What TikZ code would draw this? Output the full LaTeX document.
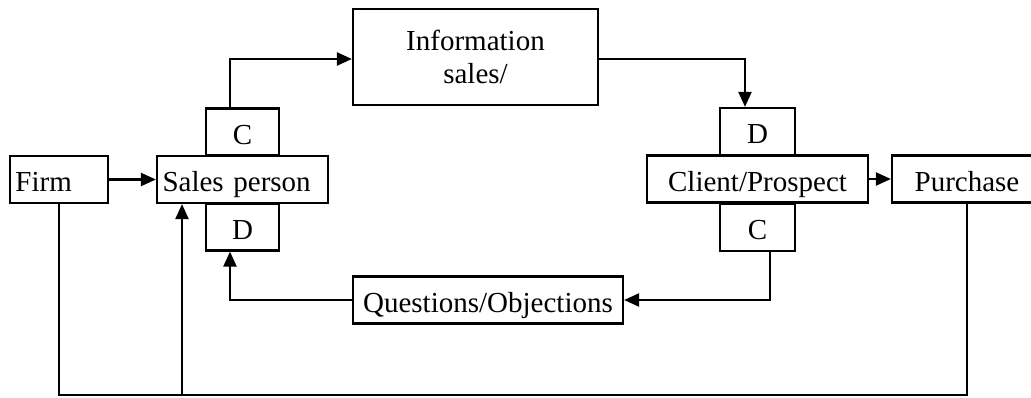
\documentclass[tikz,border=0pt]{standalone}
\usepackage{fontspec}
\setmainfont{Liberation Serif}
\usetikzlibrary{arrows.meta,positioning}

\begin{document}
\begin{tikzpicture}[x=1pt, y=-1pt, >={Triangle[length=15pt,width=13pt]},
  box/.style={rectangle, draw, line width=2.2pt, inner ysep=0pt, inner xsep=0pt, text height=36pt, text depth=11pt, font=\fontsize{29}{33}\selectfont},
  lbox/.style={box, align=left, inner xsep=5.5pt},
  cbox/.style={box, align=center},
  edge/.style={->, line width=2.2pt},
  line/.style={line width=2.2pt}
]
\useasboundingbox (0,0) rectangle (1031,398);
% blocks
\node[lbox, text width=87pt] (firm) at (59,179.5) {Firm};
\node[lbox, text width=160pt] (sales) at (242.5,179.5) {Sales person};
\node[cbox, minimum width=73pt] (ctop) at (242.5,132) {C};
\node[cbox, minimum width=73pt] (dbot) at (242.5,227) {D};
\node[rectangle, draw, line width=2.2pt, align=center, minimum width=245pt, minimum height=96pt, font=\fontsize{29}{33}\selectfont] (info) at (475.5,57) {Information\\sales/};
\node[cbox, minimum width=75pt] (dtop) at (757.5,131.5) {D};
\node[cbox, minimum width=221pt] (client) at (757.5,179) {Client/Prospect};
\node[cbox, minimum width=75pt] (cbot) at (757.5,227.5) {C};
\node[cbox, minimum width=150pt] (purchase) at (967,179) {Purchase};
\node[cbox, minimum width=270pt] (questions) at (488,300) {Questions/Objections};
% flows
\draw[edge] (firm) -- (sales);
\draw[edge] ([xshift=-12.5pt]ctop.north) |- ([yshift=-2pt]info.west);
\draw[edge] ([yshift=-2pt]info.east) -| ([xshift=-12.5pt]dtop.north);
\draw[edge] (client) -- (purchase);
\draw[edge] ([xshift=12.5pt]cbot.south) |- (questions.east);
\draw[edge] (questions.west) -| ([xshift=-12.5pt]dbot.south);
% feedback loop
\coordinate (loop) at (0,395);
\coordinate (tap) at (182,395);
\draw[line] (firm.south) |- (loop -| purchase.south) -- (purchase.south);
\draw[edge] (tap) -- (tap |- sales.south);
\end{tikzpicture}
\end{document}
